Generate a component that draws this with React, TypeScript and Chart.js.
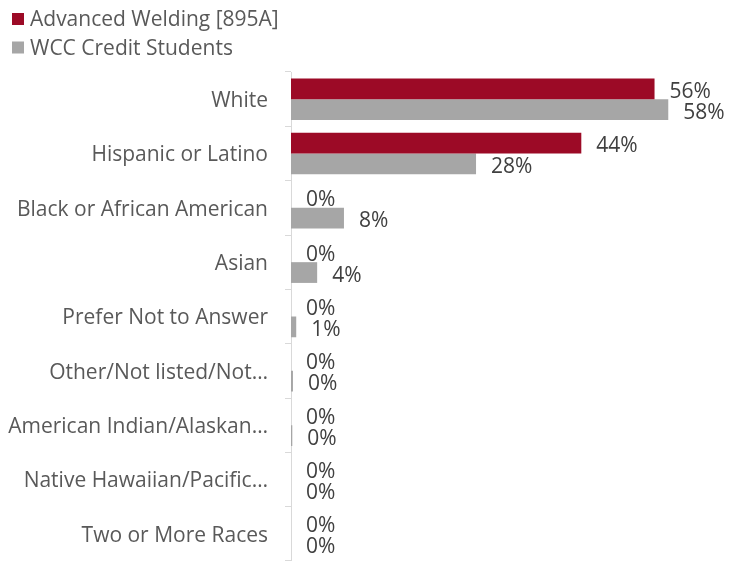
import React, { useEffect, useRef } from "react";
import { Chart, registerables } from "chart.js";

Chart.register(...registerables);

const categories = [
  "White",
  "Hispanic or Latino",
  "Black or African American",
  "Asian",
  "Prefer Not to Answer",
  "Other/Not listed/Not…",
  "American Indian/Alaskan…",
  "Native Hawaiian/Pacific…",
  "Two or More Races",
];
const seriesNames = ["Advanced Welding [895A]", "WCC Credit Students"];
const weldingValues = [0.556, 0.444, 0, 0, 0, 0, 0, 0, 0];
const wccValues = [0.577, 0.283, 0.081, 0.04, 0.008, 0.003, 0.002, 0, 0];
const seriesColors = ["#9C0A26", "#A6A6A6"];

const FONT = "'Open Sans', sans-serif";

const labelPlugin = {
  id: "barLabels",
  afterDatasetsDraw(chart: any) {
    const ctx = chart.ctx;
    ctx.save();
    ctx.font = `21px ${FONT}`;
    ctx.fillStyle = "#404040";
    ctx.textAlign = "left";
    ctx.textBaseline = "middle";
    chart.data.datasets.forEach((ds: any, di: number) => {
      const meta = chart.getDatasetMeta(di);
      meta.data.forEach((el: any, i: number) => {
        const v = ds.data[i] as number;
        ctx.fillText(Math.round(v * 100) + "%", el.x + 15, el.y + 3);
      });
    });
    ctx.restore();
  },
};

const legendPlugin = {
  id: "customLegend",
  afterDraw(chart: any) {
    const ctx = chart.ctx;
    ctx.save();
    ctx.font = `21px ${FONT}`;
    ctx.textAlign = "left";
    ctx.textBaseline = "middle";
    seriesNames.forEach((name, i) => {
      const cy = 19 + i * 28.5;
      ctx.fillStyle = seriesColors[i];
      ctx.fillRect(12, cy - 6, 12, 12);
      ctx.fillStyle = "#595959";
      ctx.fillText(name, 30, cy + 1.5);
    });
    ctx.restore();
  },
};

export default function App() {
  const ref = useRef<HTMLCanvasElement | null>(null);
  useEffect(() => {
    document.body.style.margin = "0";
    const chart = new Chart(ref.current as HTMLCanvasElement, {
      type: "bar",
      data: {
        labels: categories,
        datasets: [
          {
            label: seriesNames[0],
            data: weldingValues,
            backgroundColor: seriesColors[0],
            categoryPercentage: 0.764,
            barPercentage: 1,
          },
          {
            label: seriesNames[1],
            data: wccValues,
            backgroundColor: seriesColors[1],
            categoryPercentage: 0.764,
            barPercentage: 1,
          },
        ],
      },
      options: {
        indexAxis: "y",
        animation: false,
        responsive: false,
        layout: { padding: { top: 72, right: 13, bottom: -6, left: 0 } },
        plugins: {
          legend: { display: false },
          tooltip: { enabled: false },
        },
        scales: {
          x: { display: false, min: 0, max: 0.65 },
          y: {
            afterFit: (scale: any) => {
              scale.width = 291;
              scale.paddingTop = 0;
              scale.paddingBottom = 0;
            },
            border: { display: true, color: "#D9D9D9", width: 1 },
            grid: {
              display: true,
              drawOnChartArea: false,
              drawTicks: true,
              tickLength: 6,
              color: "#D9D9D9",
            },
            ticks: {
              color: "#595959",
              padding: 17,
              labelOffset: 2,
              autoSkip: false,
              font: { family: FONT, size: 21 },
            },
          },
        },
      },
      plugins: [labelPlugin, legendPlugin],
    });
    return () => chart.destroy();
  }, []);
  return (
    <div style={{ width: 729, height: 561 }}>
      <canvas ref={ref} width={729} height={561} />
    </div>
  );
}
